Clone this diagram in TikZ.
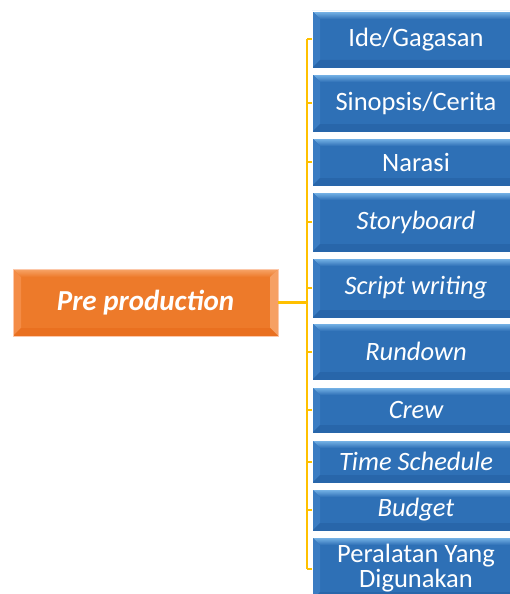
\documentclass[tikz,border=0pt]{standalone}
\usepackage{fontspec}
\setmainfont{Carlito}
\definecolor{bbody}{RGB}{46,112,182}
\definecolor{blight}{RGB}{125,185,235}
\definecolor{bleft}{RGB}{58,124,194}
\definecolor{bdark}{RGB}{40,102,170}
\definecolor{obody}{RGB}{237,122,42}
\definecolor{otop}{RGB}{247,165,105}
\definecolor{obot}{RGB}{233,112,32}
\definecolor{oleft}{RGB}{244,140,70}
\definecolor{oright}{RGB}{246,160,100}
\definecolor{oline}{RGB}{252,200,170}
\definecolor{conn}{RGB}{255,192,0}
\tikzset{
  bevelpic/.style n args={5}{% top, body, left, right, bottom
    path picture={
      \path (path picture bounding box.north west) coordinate (NW)
            (path picture bounding box.north east) coordinate (NE)
            (path picture bounding box.south west) coordinate (SW)
            (path picture bounding box.south east) coordinate (SE);
      \shade[top color=#1, bottom color=#2] (NW) -- (NE) -- ([xshift=-8pt,yshift=-8pt]NE) -- ([xshift=8pt,yshift=-8pt]NW) -- cycle;
      \fill[#3] (NW) -- ([xshift=8pt,yshift=-8pt]NW) -- ([xshift=8pt,yshift=8pt]SW) -- (SW) -- cycle;
      \fill[#4] (NE) -- ([xshift=-8pt,yshift=-8pt]NE) -- ([xshift=-8pt,yshift=8pt]SE) -- (SE) -- cycle;
      \fill[#5] (SW) -- ([xshift=8pt,yshift=8pt]SW) -- ([xshift=-8pt,yshift=8pt]SE) -- (SE) -- cycle;
    }},
  bluebox/.style={draw=white, line width=0.8pt, fill=bbody, minimum width=208pt,
    inner sep=0pt, text=white, align=center,
    font=\fontsize{26.5}{28}\selectfont,
    bevelpic={blight}{bbody}{bleft}{bdark}{bdark}},
  orangebox/.style={draw=oline, line width=0.8pt, fill=obody,
    minimum width=265pt, minimum height=67pt, inner sep=0pt, text=white,
    font=\fontsize{29}{32}\selectfont\bfseries\itshape,
    bevelpic={otop}{obody}{oleft}{oright}{obot}},
  link/.style={draw=conn, line width=2.6pt}
}
\begin{document}
\begin{tikzpicture}[x=1pt,y=-1pt]
\useasboundingbox (0,0) rectangle (510,594);
\clip (0,0) rectangle (510,594);
\fill[white] (0,0) rectangle (510,594);
\coordinate (bus) at (307,300);
\node[orangebox] (pre) at (145.5,302.5) {Pre production};
\node[bluebox, minimum height=57pt] (b1) at (416,39.5) {Ide/Gagasan};
\node[bluebox, minimum height=58pt] (b2) at (416,103) {Sinopsis/Cerita};
\node[bluebox, minimum height=48pt] (b3) at (416,162) {Narasi};
\node[bluebox, minimum height=60pt] (b4) at (416,222) {\itshape Storyboard};
\node[bluebox, minimum height=60pt] (b5) at (416,288) {\itshape Script writing};
\node[bluebox, minimum height=57pt] (b6) at (416,351.5) {\itshape Rundown};
\node[bluebox, minimum height=46pt] (b7) at (416,410) {\itshape Crew};
\node[bluebox, minimum height=43pt] (b8) at (416,461.5) {\itshape Time Schedule};
\node[bluebox, minimum height=42pt] (b9) at (416,510) {\itshape Budget};
\node[bluebox, minimum height=63pt] (b10) at (416,568.5) {Peralatan Yang\\[-3pt]Digunakan};
\draw[link] (b1.west -| bus) -- (b10.west -| bus);
\draw[link] (pre.east) -- (pre.east -| bus);
\foreach \b in {b1,b2,b3,b4,b5,b6,b7,b8,b9,b10}{
  \draw[link, line width=2pt] (\b.west -| bus) -- (\b.west);
}
\end{tikzpicture}
\end{document}
